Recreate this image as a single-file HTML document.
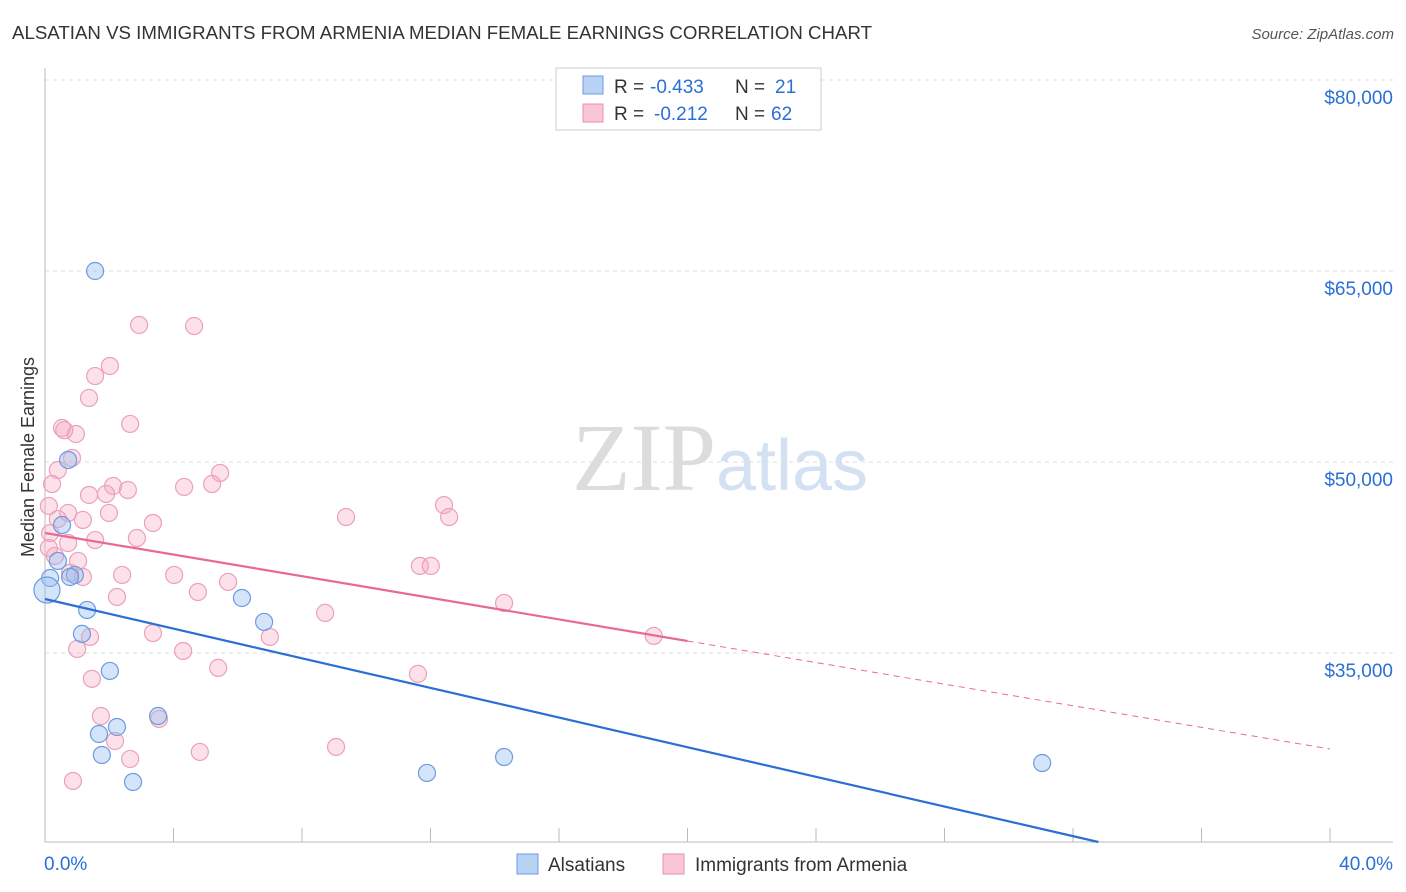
<!DOCTYPE html>
<html><head><meta charset="utf-8">
<style>
body{margin:0;background:#fff;font-family:"Liberation Sans",sans-serif;}
svg{display:block}
</style></head>
<body>
<svg id="chart" width="1406" height="892" xmlns="http://www.w3.org/2000/svg">
<text x="12" y="39" font-size="18" fill="#333" textLength="860" lengthAdjust="spacingAndGlyphs">ALSATIAN VS IMMIGRANTS FROM ARMENIA MEDIAN FEMALE EARNINGS CORRELATION CHART</text>
<text x="1394" y="39" font-size="15" fill="#555" text-anchor="end" font-style="italic">Source: ZipAtlas.com</text>
<text x="720" y="490" font-size="96" text-anchor="middle" font-family="Liberation Serif" fill="#e0e0e0"><tspan fill="#dcdcdc">ZIP</tspan><tspan fill="#d3e1f3" font-family="Liberation Sans" font-size="72">atlas</tspan></text>
<text transform="translate(34,457) rotate(-90)" font-size="18" fill="#333" text-anchor="middle">Median Female Earnings</text>
<g id="grid"></g>
<g id="marks"></g>
<g>
<rect x="556" y="68" width="265" height="62" fill="#fff" stroke="#ccc"/>
<rect x="583" y="76" width="20" height="18" fill="#b9d3f5" stroke="#6c9be0"/>
<rect x="583" y="104" width="20" height="18" fill="#f9c6d6" stroke="#ec8fae"/>
<text x="614" y="93" font-size="19" fill="#333">R =</text>
<text x="650" y="93" font-size="19" fill="#2a6fd6">-0.433</text>
<text x="735" y="93" font-size="19" fill="#333">N =</text>
<text x="775" y="93" font-size="19" fill="#2a6fd6">21</text>
<text x="614" y="120" font-size="19" fill="#333">R =</text>
<text x="654" y="120" font-size="19" fill="#2a6fd6">-0.212</text>
<text x="735" y="120" font-size="19" fill="#333">N =</text>
<text x="771" y="120" font-size="19" fill="#2a6fd6">62</text>
</g>
<g>
<rect x="517" y="854" width="21" height="20" fill="#b9d3f5" stroke="#6c9be0"/>
<text x="548" y="871" font-size="19" fill="#333">Alsatians</text>
<rect x="663" y="854" width="21" height="20" fill="#f9c6d6" stroke="#ec8fae"/>
<text x="695" y="871" font-size="19" fill="#333">Immigrants from Armenia</text>
</g>
</svg>
<script>
const yTicks=[35000,50000,65000,80000];
const yTickLabels=["$35,000","$50,000","$65,000","$80,000"];
const xTickLabels=["0.0%","40.0%"];
const blueX=[1.56,0.72,0.53,0.4,0.16,0.06,0.93,1.31,1.15,2.02,2.24,1.68,1.77,2.74,3.52,6.13,6.82,11.89,14.29,31.04,0.78];
const blueY=[65000,50160,45050,42230,40890,39950,41130,38380,36500,33590,29190,28640,26990,24870,30050,39320,37440,25580,26830,26360,40970];
const pinkX=[2.93,4.64,2.02,1.56,1.37,0.53,0.96,2.65,0.84,0.4,0.22,5.45,4.33,5.2,2.12,2.58,1.9,1.37,0.12,0.72,1.99,0.4,1.18,3.36,9.37,12.42,12.58,0.16,2.86,0.72,1.03,0.31,2.4,4.02,1.18,0.78,5.7,11.67,12.01,2.24,4.76,14.29,8.72,1.4,3.36,7.0,18.95,1.0,4.3,5.39,11.61,1.46,1.74,3.55,2.18,9.06,4.82,2.65,0.87,0.12,0.6,1.56];
const pinkY=[60760,60680,57540,56750,55030,52670,52200,52990,50320,49370,48270,49140,48040,48270,48120,47800,47490,47410,46550,46000,46000,45520,45450,45210,45680,46620,45680,44420,44030,43640,42230,42620,41130,41130,40970,41290,40580,41840,41840,39400,39790,38930,38150,36260,36570,36260,36340,35320,35160,33830,33360,32970,30050,29820,28090,27620,27230,26680,24950,43250,52500,43870];
const blueTrend=[39241,-582];
const pinkTrend=[44424,-424];
const pinkSolidEnd=20;
const X=p=>45+p/40*1285;
const Y=v=>80+(80000-v)/15000*191;
const NS="http://www.w3.org/2000/svg";
function mk(t,a,parent){const e=document.createElementNS(NS,t);for(const k in a)e.setAttribute(k,a[k]);parent.appendChild(e);return e;}
const grid=document.getElementById('grid'),marks=document.getElementById('marks');
yTicks.forEach((v,i)=>{
 const l=mk('line',{x1:45,x2:1393,y1:Y(v),y2:Y(v),stroke:'#ddd','stroke-dasharray':'4,4'},grid);
 
 
 const t=mk('text',{x:1393,y:Y(v)+24,'font-size':19,fill:'#2a6fd6','text-anchor':'end'},grid);
 t.textContent=yTickLabels[i];
 
 
});
const ax=mk('line',{x1:45,x2:45,y1:68,y2:842,stroke:'#bbb'},grid);


const bx=mk('line',{x1:45,x2:1393,y1:842,y2:842,stroke:'#bbb'},grid);


for(let i=0;i<=10;i++){const t=mk('line',{x1:X(i*4),x2:X(i*4),y1:828,y2:842,stroke:'#bbb'},grid);
 
 }
[[0,'start',44],[40,'end',1393]].forEach((d,i)=>{const t=mk('text',{x:d[2],y:870,'font-size':19,fill:'#2a6fd6','text-anchor':d[1]},grid);t.textContent=xTickLabels[i];
 
 });
pinkX.forEach((x,i)=>{const c=mk('circle',{cx:X(x),cy:Y(pinkY[i]),r:8.5,fill:'rgba(245,170,195,0.35)',stroke:'#eca0b9','stroke-width':1.2},marks);
 
 });
blueX.forEach((x,i)=>{const c=mk('circle',{cx:X(x),cy:Y(blueY[i]),r:i==5?13:8.5,fill:'rgba(150,190,240,0.4)',stroke:'#6c9be0','stroke-width':1.2},marks);
 
 });
const bEnd=(20157-blueTrend[0])/blueTrend[1];
const bl=mk('line',{x1:X(0),y1:Y(blueTrend[0]),x2:X(bEnd),y2:Y(blueTrend[0]+blueTrend[1]*bEnd),stroke:'#2a6fd6','stroke-width':2.2},marks);


const pl=mk('line',{x1:X(0),y1:Y(pinkTrend[0]),x2:X(pinkSolidEnd),y2:Y(pinkTrend[0]+pinkTrend[1]*pinkSolidEnd),stroke:'#e86a93','stroke-width':2.2},marks);


const pd=mk('line',{x1:X(pinkSolidEnd),y1:Y(pinkTrend[0]+pinkTrend[1]*pinkSolidEnd),x2:X(40),y2:Y(pinkTrend[0]+pinkTrend[1]*40),stroke:'#e86a93','stroke-width':1,'stroke-dasharray':'6,5'},marks);


</script>
</body></html>
